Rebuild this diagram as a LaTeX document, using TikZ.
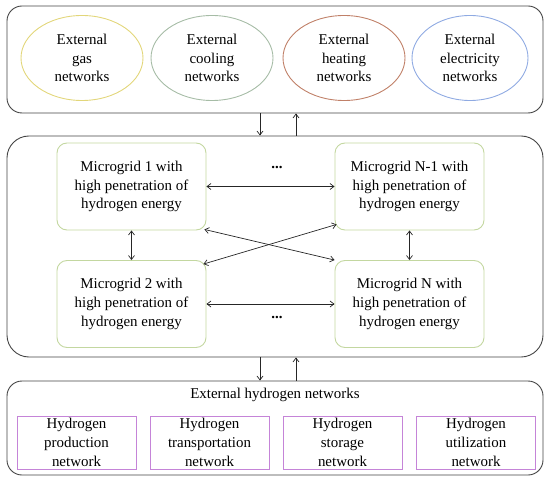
\documentclass[tikz,border=0pt]{standalone}
\usepackage{fontspec}
\setmainfont{Liberation Serif}
\usetikzlibrary{shapes.geometric,arrows.meta}
\definecolor{cgas}{HTML}{E2D67A}
\definecolor{ccool}{HTML}{A6BCA6}
\definecolor{cheat}{HTML}{C08068}
\definecolor{celec}{HTML}{8FAAE2}
\definecolor{mgreen}{HTML}{C3D7A0}
\definecolor{hpurple}{HTML}{C584D8}
\definecolor{frame}{HTML}{444444}
\begin{document}
\begin{tikzpicture}[x=1bp,y=-1bp,
 txt/.style={font=\fontsize{15}{18.8}\selectfont, align=center},
 outer/.style={draw=frame, line width=0.9bp, rounded corners=15bp, minimum width=536bp, inner sep=0pt},
 net/.style={ellipse, draw, line width=0.9bp, minimum width=122bp, minimum height=85bp, inner sep=0pt, txt},
 mg/.style={draw=mgreen, line width=0.9bp, rounded corners=10bp, minimum width=149bp, minimum height=87bp, inner sep=0pt, txt},
 hb/.style={draw=hpurple, line width=0.8bp, minimum width=119bp, minimum height=53bp, inner sep=0pt, txt},
 arr/.style={-{Straight Barb[length=4bp,width=6bp]}, line width=0.7bp, draw=black!85},
 darr/.style={{Straight Barb[length=4bp,width=6bp]}-{Straight Barb[length=4bp,width=6bp]}, line width=0.7bp, draw=black!85}]
\useasboundingbox (0,0) rectangle (550,483);
% outer frames
\node[outer, minimum height=107bp] (top) at (275,59.5) {};
\node[outer, minimum height=221bp, rounded corners=22bp] (mid) at (275,246.5) {};
\node[outer, minimum height=94bp] (bot) at (275,428) {};
% external networks
\node[net, draw=cgas] (gas) at (82,58) {External\\gas\\networks};
\node[net, draw=ccool] (cool) at (212,58) {External\\cooling\\networks};
\node[net, draw=cheat] (heat) at (344,58) {External\\heating\\networks};
\node[net, draw=celec, minimum width=116bp] (elec) at (470,58) {External\\electricity\\networks};
% microgrids
\node[mg] (m1) at (131.5,186.5) {Microgrid 1 with\\high penetration of\\hydrogen energy};
\node[mg] (m2) at (131.5,304) {Microgrid 2 with\\high penetration of\\hydrogen energy};
\node[mg] (mn1) at (409.5,186.5) {Microgrid N-1 with\\high penetration of\\hydrogen energy};
\node[mg] (mn) at (409.5,304) {Microgrid N with\\high penetration of\\hydrogen energy};
\node[txt] (dots1) at (277,168) {\textbf{...}};
\node[txt] (dots2) at (277,317) {\textbf{...}};
% hydrogen networks
\node[txt] (htitle) at (275,395) {External hydrogen networks};
\node[hb] (hp) at (76.5,442.5) {Hydrogen\\production\\network};
\node[hb] (ht) at (209.5,442.5) {Hydrogen\\transportation\\network};
\node[hb] (hs) at (342.5,442.5) {Hydrogen\\storage\\network};
\node[hb] (hu) at (476,442.5) {Hydrogen\\utilization\\network};
% connectors
\coordinate (cx1) at (260,0);
\coordinate (cx2) at (296,0);
\draw[arr] (top.south -| cx1) -- (mid.north -| cx1);
\draw[arr] (mid.north -| cx2) -- (top.south -| cx2);
\draw[arr] (mid.south -| cx1) -- (bot.north -| cx1);
\draw[arr] (bot.north -| cx2) -- (mid.south -| cx2);
\draw[darr] (m1.east) -- (mn1.west);
\draw[darr] (m2.east) -- (mn.west);
\draw[darr] (m1.south) -- (m2.north);
\draw[darr] (mn1.south) -- (mn.north);
\draw[darr] ([shift={(-2,-1)}]m1.south east) -- (mn.north west);
\draw[darr] ([shift={(-3,4)}]m2.north east) -- ([shift={(2,-6)}]mn1.south west);
\end{tikzpicture}
\end{document}
